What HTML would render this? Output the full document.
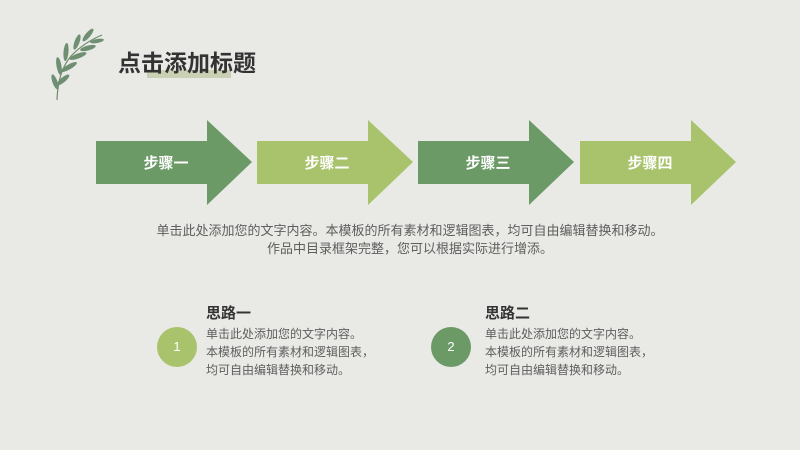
<!DOCTYPE html>
<html><head><meta charset="utf-8"><style>
body{margin:0;width:800px;height:450px;background:#e9e9e6;position:relative;overflow:hidden;font-family:"Liberation Sans","Noto Sans CJK SC",sans-serif;}
.a{position:absolute;}
.t{color:#5e5e5e;font-size:12px;line-height:18px;}
</style></head><body>
<svg class="a" style="left:0;top:0" width="800" height="450">
<g stroke="#6f8a6f" fill="none" stroke-width="1.2"><path d="M57 100 Q58 70 72 55 Q85 42 102 35"/></g>
<g fill="#6f8f72">
<ellipse cx="55" cy="82" rx="2.5" ry="8" transform="rotate(-20 55 82)"/>
<ellipse cx="63" cy="80" rx="2.5" ry="8" transform="rotate(50 63 80)"/>
<ellipse cx="59" cy="66" rx="2.5" ry="9" transform="rotate(-10 59 66)"/>
<ellipse cx="69" cy="67" rx="2.5" ry="9" transform="rotate(60 69 67)"/>
<ellipse cx="66" cy="52" rx="2.5" ry="9" transform="rotate(5 66 52)"/>
<ellipse cx="78" cy="56" rx="2.5" ry="9" transform="rotate(70 78 56)"/>
<ellipse cx="77" cy="42" rx="2.5" ry="8" transform="rotate(20 77 42)"/>
<ellipse cx="88" cy="48" rx="2.5" ry="8" transform="rotate(75 88 48)"/>
<ellipse cx="88" cy="35" rx="2.5" ry="8" transform="rotate(40 88 35)"/>
<ellipse cx="97" cy="41" rx="2" ry="7" transform="rotate(80 97 41)"/>
</g>
<rect x="147" y="70" width="84" height="8" fill="#c9d0b3"/>
<polygon points="96,141 207,141 207,120 252,162 207,205 207,184 96,184" fill="#6b9a67"/>
<polygon points="257,141 368,141 368,120 413,162 368,205 368,184 257,184" fill="#a9c36d"/>
<polygon points="418,141 529,141 529,120 574,162 529,205 529,184 418,184" fill="#6b9a67"/>
<polygon points="580,141 691,141 691,120 736,162 691,205 691,184 580,184" fill="#a9c36d"/>
<circle cx="177" cy="347" r="20" fill="#a9c36d"/>
<circle cx="451" cy="347" r="20" fill="#6b9a67"/>
</svg>
<div class="a" style="left:118px;top:44px;font-size:23px;font-weight:bold;color:#333;">点击添加标题</div>
<div class="a" style="left:96px;top:152px;width:140px;text-align:center;color:#fff;font-weight:bold;font-size:15px;">步骤一</div>
<div class="a" style="left:257px;top:152px;width:140px;text-align:center;color:#fff;font-weight:bold;font-size:15px;">步骤二</div>
<div class="a" style="left:418px;top:152px;width:140px;text-align:center;color:#fff;font-weight:bold;font-size:15px;">步骤三</div>
<div class="a" style="left:580px;top:152px;width:140px;text-align:center;color:#fff;font-weight:bold;font-size:15px;">步骤四</div>
<div class="a t" style="left:100px;top:222px;width:620px;text-align:center;font-size:13px;">单击此处添加您的文字内容。本模板的所有素材和逻辑图表，均可自由编辑替换和移动。<br>作品中目录框架完整，您可以根据实际进行增添。</div>
<div class="a" style="left:157px;top:339px;width:40px;text-align:center;color:#fff;font-size:13px;">1</div>
<div class="a" style="left:431px;top:339px;width:40px;text-align:center;color:#fff;font-size:13px;">2</div>
<div class="a" style="left:206px;top:302px;font-size:15px;font-weight:bold;color:#333;">思路一</div>
<div class="a" style="left:485px;top:302px;font-size:15px;font-weight:bold;color:#333;">思路二</div>
<div class="a t" style="left:206px;top:325px;">单击此处添加您的文字内容。<br>本模板的所有素材和逻辑图表，<br>均可自由编辑替换和移动。</div>
<div class="a t" style="left:485px;top:325px;">单击此处添加您的文字内容。<br>本模板的所有素材和逻辑图表，<br>均可自由编辑替换和移动。</div>
</body></html>
